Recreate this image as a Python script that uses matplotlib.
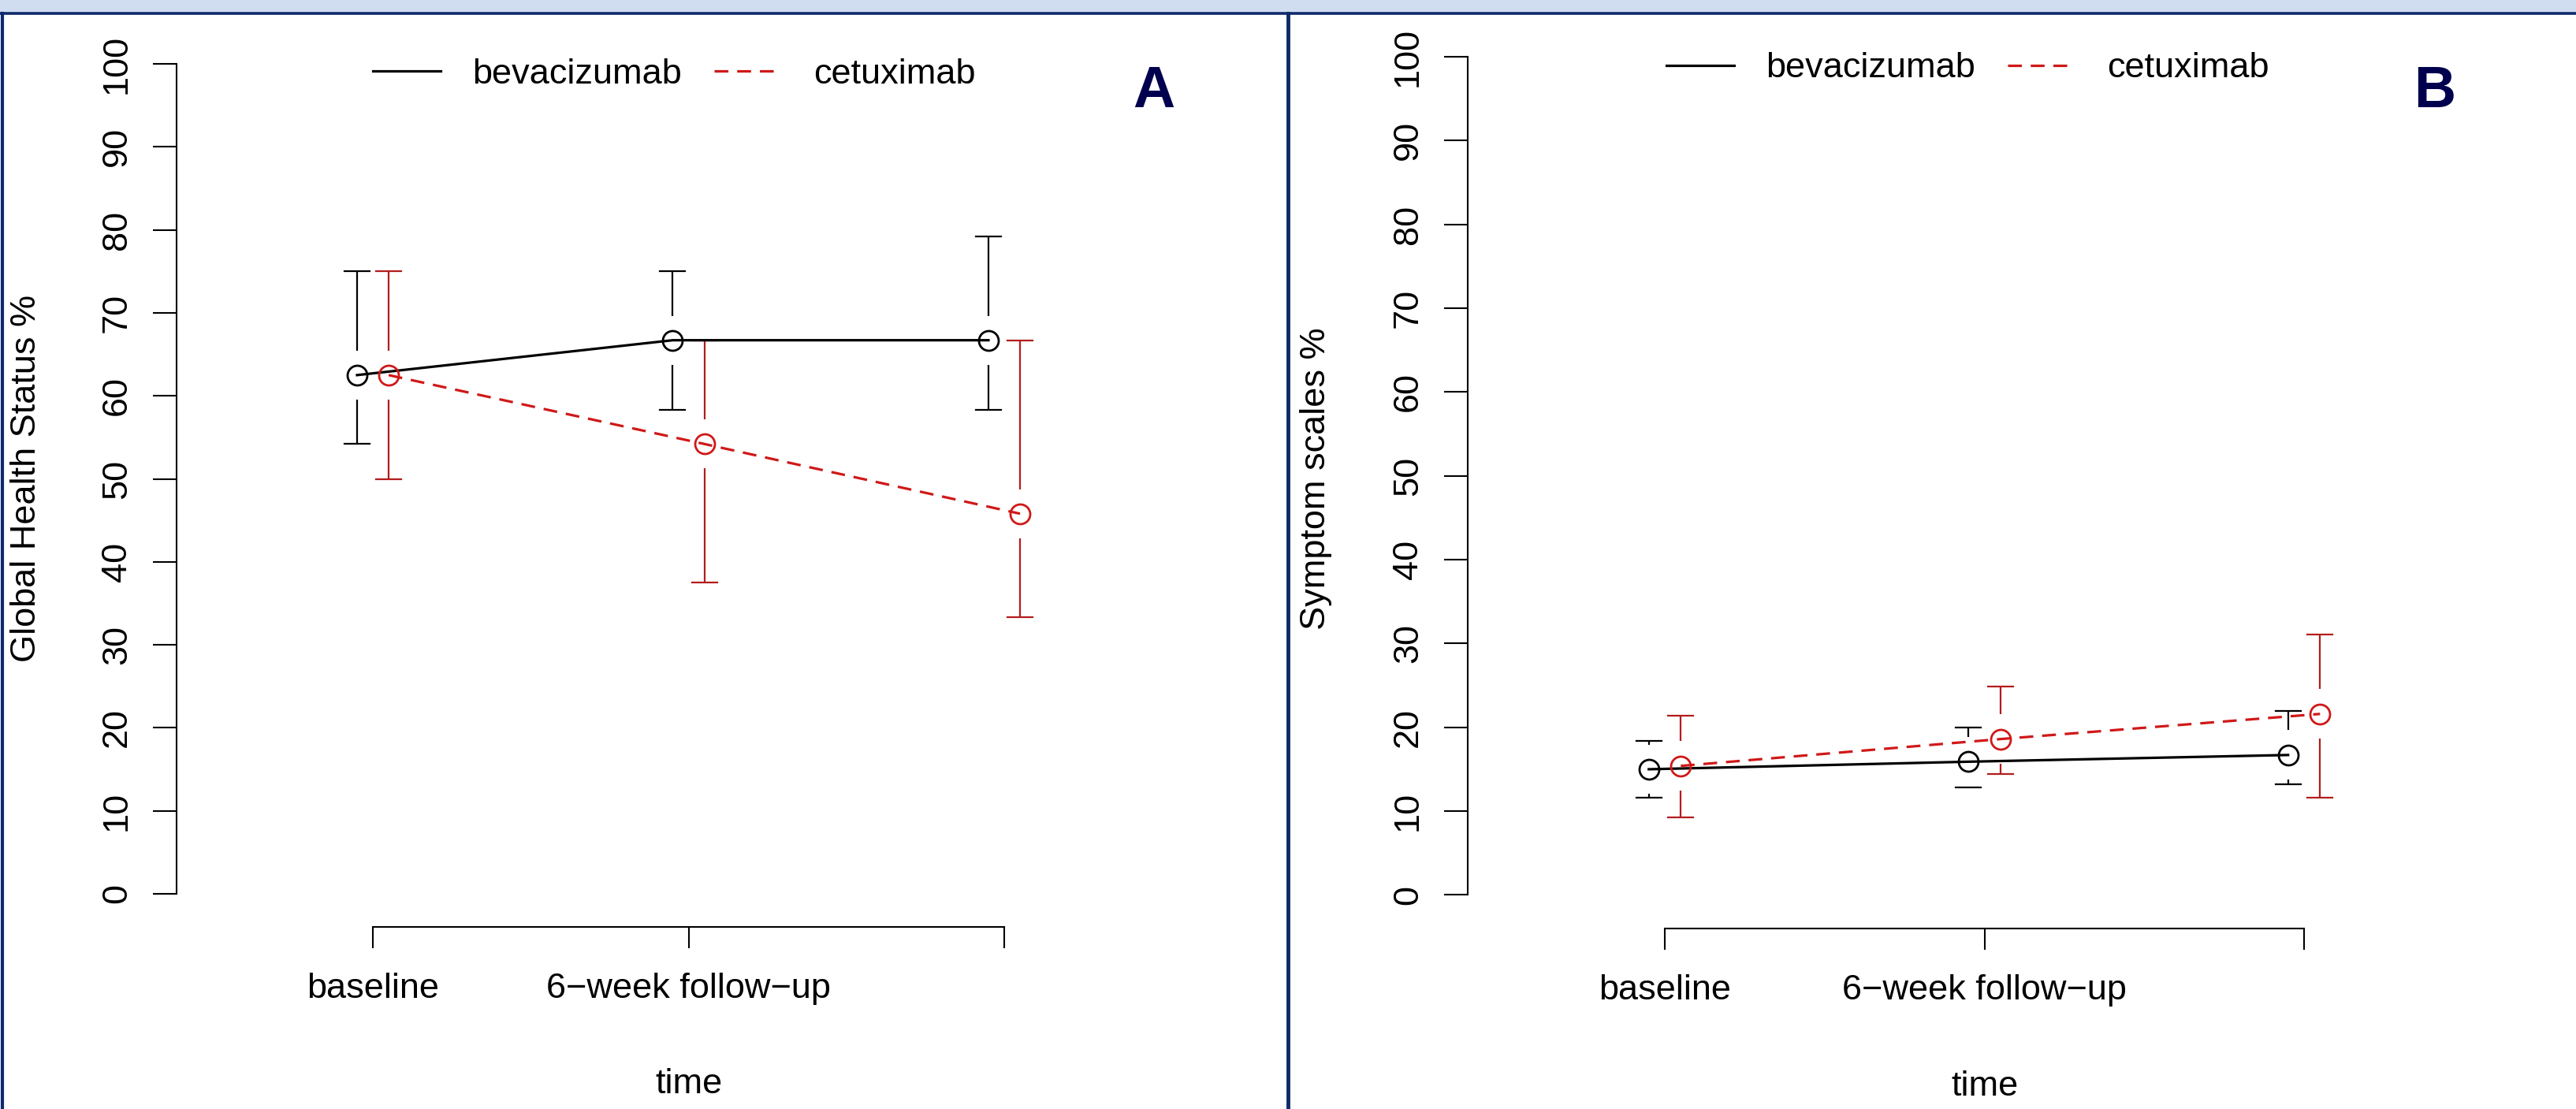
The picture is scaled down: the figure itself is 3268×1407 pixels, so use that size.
import matplotlib
matplotlib.use("Agg")
import matplotlib.pyplot as plt
from matplotlib.lines import Line2D
from matplotlib.patches import Rectangle

plt.rcParams['font.family'] = ['Liberation Sans', 'DejaVu Sans']

# data
timepoints = [1, 2, 3]
time_labels = ["baseline", "6\u2212week follow\u2212up", ""]

# panel A: Global Health Status
ghs_bev = [62.5, 66.7, 66.7]
ghs_bev_lo = [54.2, 58.3, 58.3]
ghs_bev_hi = [75.0, 75.0, 79.2]
ghs_cet = [62.5, 54.2, 45.8]
ghs_cet_lo = [50.0, 37.5, 33.3]
ghs_cet_hi = [75.0, 66.7, 66.7]

# panel B: symptom scales
sym_bev = [15.0, 15.9, 16.7]
sym_bev_lo = [11.6, 12.8, 13.2]
sym_bev_hi = [18.4, 20.0, 22.0]
sym_cet = [15.4, 18.6, 21.6]
sym_cet_lo = [9.3, 14.4, 11.6]
sym_cet_hi = [21.4, 24.9, 31.1]

W, H = 3268, 1407
FS = 32.5
RED = '#d01818'
RED_BAR = '#b41c1c'
NAVY = '#0d2a6b'

fig = plt.figure(figsize=(W / 100, H / 100), dpi=100)

# background decoration: light band on top and navy frame lines
fig.patches.append(Rectangle((0, 1 - 15 / H), 1, 15 / H, transform=fig.transFigure,
                             facecolor='#d0dcf0', edgecolor='none', zorder=0))
fig.add_artist(Line2D([0, 1], [1 - 16.5 / H] * 2, transform=fig.transFigure, color=NAVY, lw=2.6))
fig.add_artist(Line2D([3 / W] * 2, [0, 1 - 16.5 / H], transform=fig.transFigure, color=NAVY, lw=3))
fig.add_artist(Line2D([1634 / W] * 2, [0, 1 - 16.5 / H], transform=fig.transFigure, color=NAVY, lw=3.5))


def ci_bars(ax, x, y, lo, hi, color, gap=2.95, cap=0.04):
    # plotCI style: bar stops short of the point, caps at the ends
    for xi, yi, l, h in zip(x, y, lo, hi):
        ax.plot([xi, xi], [h, yi + gap], color=color, lw=1.6, solid_capstyle='butt')
        ax.plot([xi, xi], [l, yi - gap], color=color, lw=1.6, solid_capstyle='butt')
        ax.plot([xi - cap, xi + cap], [h, h], color=color, lw=1.6)
        ax.plot([xi - cap, xi + cap], [l, l], color=color, lw=1.6)


def panel(left, top, right, bottom, x1_px, x3_px, bev, bev_lo, bev_hi, cet, cet_lo, cet_hi,
          ylabel, ylab_x, letter, letter_x, leg_x, leg_y, time_y):
    ax = fig.add_axes([left / W, 1 - bottom / H, (right - left) / W, (bottom - top) / H])
    unit = (x3_px - x1_px) / 2
    ax.set_xlim(1 - (x1_px - left) / unit, 3 + (right - x3_px) / unit)
    ax.set_ylim(-4, 104)
    ax.patch.set_alpha(0)

    xb = [t - 0.05 for t in timepoints]
    xc = [t + 0.05 for t in timepoints]
    ci_bars(ax, xb, bev, bev_lo, bev_hi, 'black')
    ci_bars(ax, xc, cet, cet_lo, cet_hi, RED_BAR)
    ax.plot(xb, bev, color='black', lw=2.3, marker='o', ms=18, mfc='none', mew=2,
            label='bevacizumab')
    ax.plot(xc, cet, color=RED, lw=2.3, ls='--', dashes=(5.5, 3.5), marker='o', ms=18,
            mfc='none', mew=2, label='cetuximab')

    for s in ['top', 'right']:
        ax.spines[s].set_visible(False)
    ax.spines['left'].set_bounds(0, 100)
    ax.spines['bottom'].set_bounds(1, 3)
    for s in ['left', 'bottom']:
        ax.spines[s].set_linewidth(1.5)

    ax.set_yticks(range(0, 101, 10))
    ax.set_yticklabels([str(v) for v in range(0, 101, 10)], rotation=90, va='center')
    ax.set_xticks(timepoints)
    ax.set_xticklabels(time_labels)
    ax.tick_params(axis='y', length=21.6, width=1.5, pad=18, labelsize=FS)
    ax.tick_params(axis='x', length=19.5, width=1.5, pad=22, labelsize=FS)

    fig.text(ylab_x / W, 1 - 607 / H, ylabel, rotation=90, ha='center', va='center', fontsize=FS)
    fig.text((x1_px + unit) / W, 1 - time_y / H, 'time', ha='center', va='baseline', fontsize=FS)
    fig.text(letter_x / W, 1 - 117 / H, letter, ha='center', va='center', fontsize=53,
             fontweight='bold', color='#00004e')

    ax.legend(loc='center left', bbox_to_anchor=(leg_x / W, 1 - leg_y / H),
              bbox_transform=fig.transFigure, ncol=2, frameon=False, fontsize=FS,
              handlelength=1.9, handletextpad=0.9, columnspacing=0.9, borderpad=0,
              borderaxespad=0,
              handles=[Line2D([], [], color='black', lw=2.3),
                       Line2D([], [], color=RED, lw=2.3, ls='--', dashes=(5.5, 3.5))],
              labels=['bevacizumab', 'cetuximab'])
    return ax


panel(224, 38.9, 1580, 1176.1, 473, 1274, ghs_bev, ghs_bev_lo, ghs_bev_hi,
      ghs_cet, ghs_cet_lo, ghs_cet_hi, 'Global Health Status %', 34, 'A', 1464, 473, 94, 1387)
panel(1862, 29.5, 3200, 1178, 2112, 2923, sym_bev, sym_bev_lo, sym_bev_hi,
      sym_cet, sym_cet_lo, sym_cet_hi, 'Symptom scales %', 1669, 'B', 3089, 2114, 87, 1390)

fig.savefig('out.png', dpi=100)
